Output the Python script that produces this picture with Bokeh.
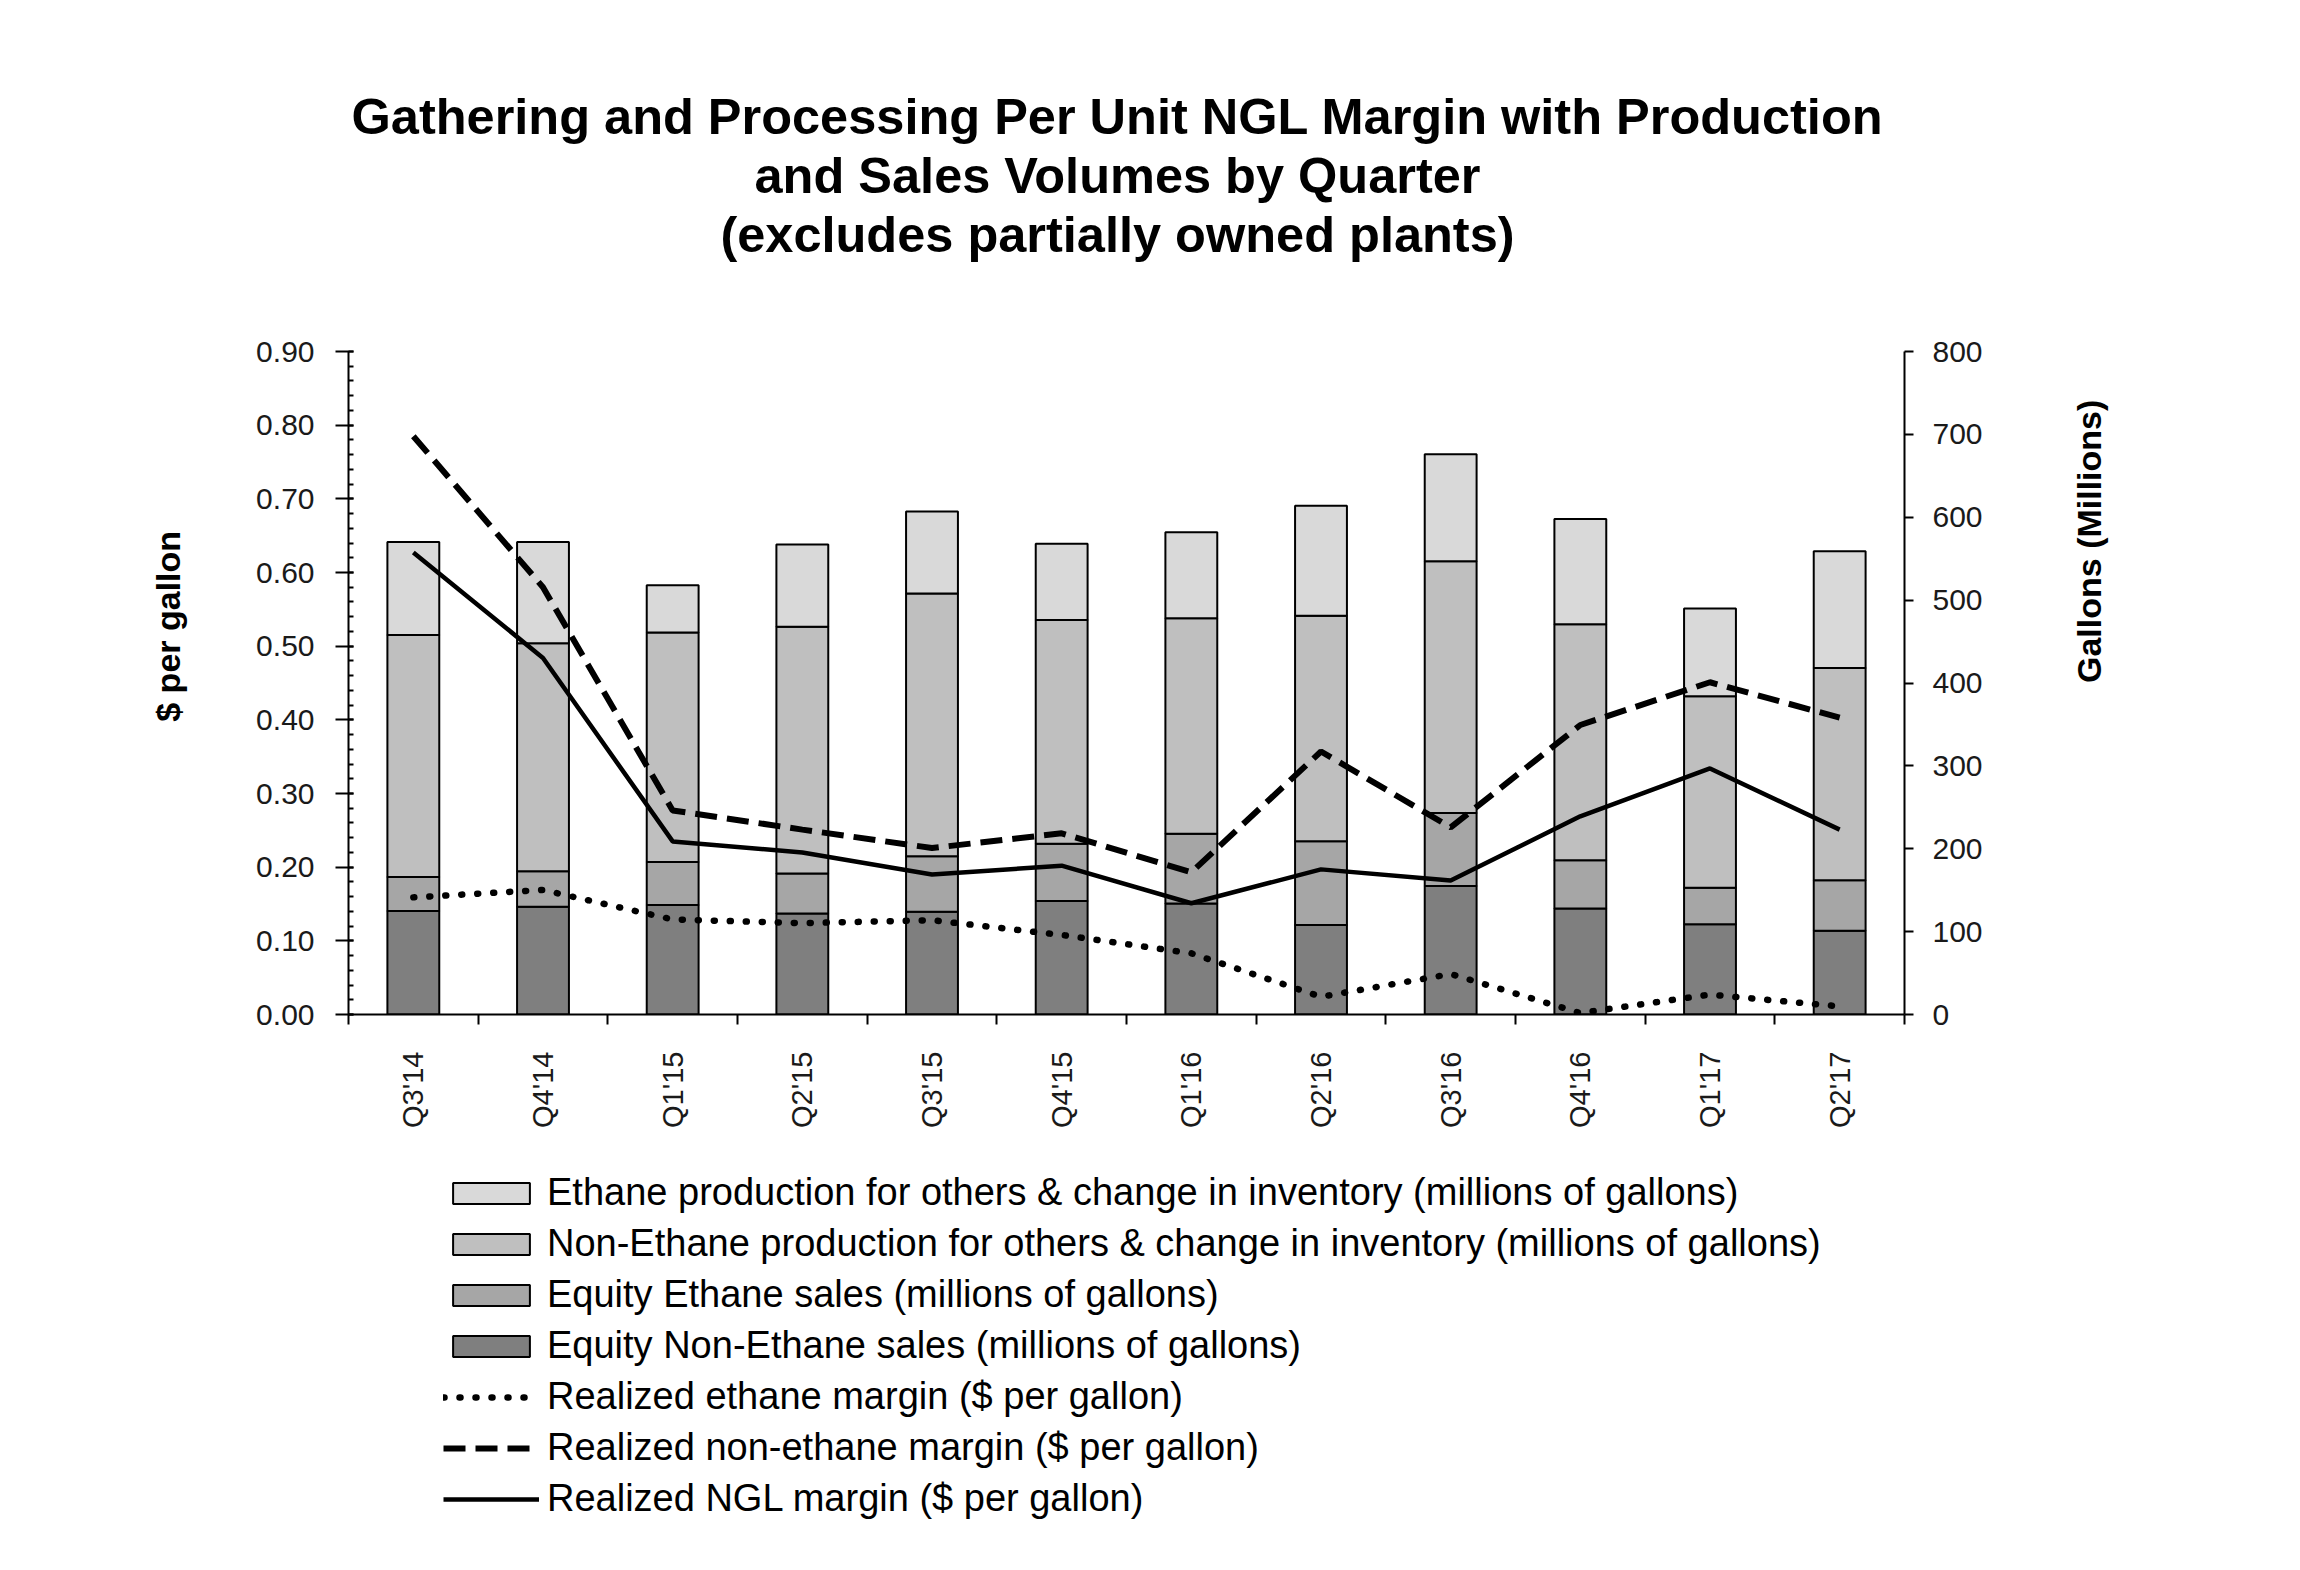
import math
import numpy as np
from bokeh.plotting import figure
from bokeh.layouts import column
from bokeh.models import (Range1d, LinearAxis, FixedTicker, SingleIntervalTicker,
                          NumeralTickFormatter, Legend, LegendItem, Label, ColumnDataSource)
from bokeh.embed import file_html
from bokeh.resources import INLINE

# ---------------- data ----------------
quarters = ["Q3'14", "Q4'14", "Q1'15", "Q2'15", "Q3'15", "Q4'15",
            "Q1'16", "Q2'16", "Q3'16", "Q4'16", "Q1'17", "Q2'17"]

# millions of gallons (right axis)
equity_non_ethane = [125, 130, 132, 122, 124, 137, 134, 108, 155, 128, 109, 101]
equity_ethane = [41, 43, 52, 48, 67, 69, 84, 101, 88, 58, 44, 61]
non_ethane_others = [292, 275, 277, 298, 317, 270, 260, 272, 304, 285, 231, 256]
ethane_others = [112, 122, 57, 99, 99, 92, 104, 133, 129, 127, 106, 141]

# $ per gallon (left axis)
ethane_margin = [0.159, 0.169, 0.129, 0.124, 0.128, 0.108, 0.083, 0.024, 0.055, 0.002, 0.027, 0.011]
non_ethane_margin = [0.785, 0.58, 0.277, 0.251, 0.226, 0.246, 0.193, 0.357, 0.254, 0.393, 0.451, 0.403]
ngl_margin = [0.627, 0.484, 0.235, 0.22, 0.19, 0.202, 0.151, 0.197, 0.182, 0.269, 0.334, 0.251]

title_lines = ["Gathering and Processing Per Unit NGL Margin with Production",
               "and Sales Volumes by Quarter",
               "(excludes partially owned plants)"]

legend_labels = ["Ethane production for others & change in inventory (millions of gallons)",
                 "Non-Ethane production for others & change in inventory (millions of gallons)",
                 "Equity Ethane sales (millions of gallons)",
                 "Equity Non-Ethane sales (millions of gallons)",
                 "Realized ethane margin ($ per gallon)",
                 "Realized non-ethane margin ($ per gallon)",
                 "Realized NGL margin ($ per gallon)"]

FONT = "Liberation Sans"
W = 2284
BL, BR = 348, 380          # left / right borders shared by all three stacked figures
TITLE_H = 297
MAIN_H = 857
LEG_H = 407

bar_colors = ["#7f7f7f", "#a6a6a6", "#bfbfbf", "#d9d9d9"]
BAR_STYLE = dict(line_color="black", line_width=2)
ETH_STYLE = dict(line_color="black", line_width=6.5, line_dash="1 15", line_cap="round")
NON_STYLE = dict(line_color="black", line_width=6, line_dash="22 10")
NGL_STYLE = dict(line_color="black", line_width=4.5)

n = len(quarters)
centers = [i + 0.5 for i in range(n)]
bounds = [float(i) for i in range(n + 1)]

src = ColumnDataSource(dict(
    x=centers,
    eq_non=equity_non_ethane,
    eq_eth=equity_ethane,
    non_oth=non_ethane_others,
    eth_oth=ethane_others,
    m_eth=ethane_margin,
    m_non=non_ethane_margin,
    m_ngl=ngl_margin,
))


def plain(f):
    f.outline_line_color = None
    f.xgrid.visible = False
    f.ygrid.visible = False
    f.background_fill_color = "white"
    f.border_fill_color = "white"
    return f


# ================= title =================
pt = plain(figure(width=W, height=TITLE_H, x_range=Range1d(BL, W - BR), y_range=Range1d(0, TITLE_H),
                  output_backend="svg", toolbar_location=None, x_axis_type=None, y_axis_type=None,
                  min_border_left=BL, min_border_right=BR, min_border_top=0, min_border_bottom=0))
title_centers_from_top = [116, 175, 234]
for t, yt in zip(title_lines, title_centers_from_top):
    pt.add_layout(Label(x=1117, y=TITLE_H - yt, text=t, text_align="center",
                        text_baseline="middle", text_font=FONT, text_font_size="50.5px",
                        text_font_style="bold", text_color="black"))

# ================= main chart =================
p = plain(figure(width=W, height=MAIN_H, x_range=Range1d(0, n), y_range=Range1d(0, 0.9),
                 output_backend="svg", toolbar_location=None,
                 min_border_left=BL, min_border_right=BR, min_border_top=54, min_border_bottom=140))
p.extra_y_ranges = {"gal": Range1d(0, 800)}

xa = p.xaxis[0]
xa.ticker = FixedTicker(ticks=centers, minor_ticks=bounds)
xa.major_label_overrides = {c: q for c, q in zip(centers, quarters)}
xa.major_label_orientation = math.pi / 2
xa.major_tick_out = 0
xa.major_tick_in = 0
xa.minor_tick_out = 10
xa.minor_tick_in = 0
xa.minor_tick_line_width = 2
xa.minor_tick_line_color = "black"
xa.axis_line_width = 2
xa.axis_line_color = "black"
xa.major_label_text_font = FONT
xa.major_label_text_font_size = "29px"
xa.major_label_text_color = "#1a1a1a"
xa.major_label_standoff = 27

ya = p.yaxis[0]
ya.ticker = SingleIntervalTicker(interval=0.1, num_minor_ticks=5)
ya.formatter = NumeralTickFormatter(format="0.00")
ya.major_tick_out = 13
ya.major_tick_in = 5
ya.minor_tick_out = 0
ya.minor_tick_in = 5
ya.major_tick_line_width = 2
ya.minor_tick_line_width = 2
ya.major_tick_line_color = "black"
ya.minor_tick_line_color = "black"
ya.axis_line_width = 2
ya.axis_line_color = "black"
ya.major_label_text_font = FONT
ya.major_label_text_font_size = "30px"
ya.major_label_text_color = "#1a1a1a"
ya.major_label_standoff = 21
# leading no-break spaces lift the centred title a little, as in the original
ya.axis_label = "\u00a0" * 12 + "$ per gallon"
ya.axis_label_text_font = FONT
ya.axis_label_text_font_size = "34px"
ya.axis_label_text_font_style = "bold"
ya.axis_label_text_color = "black"
ya.axis_label_standoff = 66

ra = LinearAxis(y_range_name="gal")
ra.ticker = SingleIntervalTicker(interval=100, num_minor_ticks=0)
ra.major_tick_out = 9
ra.major_tick_in = 0
ra.minor_tick_line_color = None
ra.major_tick_line_width = 2
ra.major_tick_line_color = "black"
ra.axis_line_width = 2
ra.axis_line_color = "black"
ra.major_label_text_font = FONT
ra.major_label_text_font_size = "30px"
ra.major_label_text_color = "#1a1a1a"
ra.major_label_standoff = 19
ra.axis_label = "Gallons (Millions)"
ra.axis_label_orientation = math.pi / 2
ra.axis_label_text_font = FONT
ra.axis_label_text_font_size = "34px"
ra.axis_label_text_font_style = "bold"
ra.axis_label_text_color = "black"
ra.axis_label_standoff = 103
p.add_layout(ra, "right")

stack_cols = ["eq_non", "eq_eth", "non_oth", "eth_oth"]
p.vbar_stack(stack_cols, x="x", width=0.4, fill_color=bar_colors, source=src,
             y_range_name="gal", **BAR_STYLE)
p.line("x", "m_eth", source=src, **ETH_STYLE)
p.line("x", "m_non", source=src, **NON_STYLE)
p.line("x", "m_ngl", source=src, **NGL_STYLE)

# ================= legend =================
# legend-only renderers: same styles, a single undrawable (NaN) point so only the swatch shows
pl = plain(figure(width=W, height=LEG_H, x_range=Range1d(0, 1), y_range=Range1d(0, 1),
                  output_backend="svg", toolbar_location=None, x_axis_type=None, y_axis_type=None,
                  min_border_left=BL, min_border_right=BR, min_border_top=0, min_border_bottom=0))
nan_src = ColumnDataSource(dict(x=np.array([np.nan]), y=np.array([np.nan])))
sw = [pl.vbar(x="x", top="y", width=0.4, fill_color=c, source=nan_src, **BAR_STYLE)
      for c in bar_colors]
lw_eth = pl.line("x", "y", source=nan_src, **ETH_STYLE)
lw_non = pl.line("x", "y", source=nan_src, **NON_STYLE)
lw_ngl = pl.line("x", "y", source=nan_src, **NGL_STYLE)
items = [LegendItem(label=legend_labels[0], renderers=[sw[3]]),
         LegendItem(label=legend_labels[1], renderers=[sw[2]]),
         LegendItem(label=legend_labels[2], renderers=[sw[1]]),
         LegendItem(label=legend_labels[3], renderers=[sw[0]]),
         LegendItem(label=legend_labels[4], renderers=[lw_eth]),
         LegendItem(label=legend_labels[5], renderers=[lw_non]),
         LegendItem(label=legend_labels[6], renderers=[lw_ngl])]
legend = Legend(items=items, location=(95, 40), orientation="vertical",
                glyph_width=96, glyph_height=26, label_standoff=8,
                label_text_font=FONT, label_text_font_size="38px", label_text_color="black",
                label_height=45, spacing=6, padding=0, margin=0,
                border_line_color=None, background_fill_alpha=0)
pl.add_layout(legend)

layout = column(pt, p, pl, spacing=0)
open("out.html", "w").write(file_html(layout, INLINE))
